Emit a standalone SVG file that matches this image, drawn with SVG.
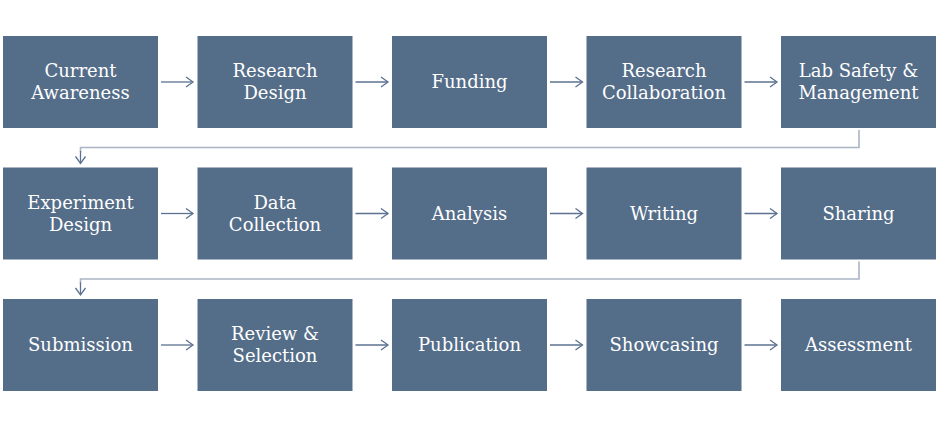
<svg xmlns="http://www.w3.org/2000/svg" width="939" height="426" viewBox="0 0 939 426">
<defs>
<style>
.box{fill:#546d89}
.t{font-family:"DejaVu Serif","Liberation Serif",serif;font-size:18px;fill:#fff;text-anchor:middle}
.a{stroke:#5b7290;stroke-width:1.3;fill:none}
.w{stroke:#a9b5c3;stroke-width:1.6;fill:none}
</style>
<marker id="ah" markerWidth="10" markerHeight="12" refX="8" refY="6" orient="auto" markerUnits="userSpaceOnUse">
<path d="M1,1 L8,6 L1,11" fill="none" stroke="#5b7290" stroke-width="1.3"/>
</marker>
</defs>
<rect width="939" height="426" fill="#fff"/>
<g id="connectors">
<line class="a" x1="161" y1="82" x2="193" y2="82" marker-end="url(#ah)"/>
<line class="a" x1="355.5" y1="82" x2="388" y2="82" marker-end="url(#ah)"/>
<line class="a" x1="550" y1="82" x2="582.5" y2="82" marker-end="url(#ah)"/>
<line class="a" x1="744.5" y1="82" x2="777" y2="82" marker-end="url(#ah)"/>
<polyline class="w" points="859,130 859,147.5 80.5,147.5 80.5,152"/>
<line class="a" x1="80.5" y1="151" x2="80.5" y2="163.5" marker-end="url(#ah)"/>
<line class="a" x1="161" y1="213.5" x2="193" y2="213.5" marker-end="url(#ah)"/>
<line class="a" x1="355.5" y1="213.5" x2="388" y2="213.5" marker-end="url(#ah)"/>
<line class="a" x1="550" y1="213.5" x2="582.5" y2="213.5" marker-end="url(#ah)"/>
<line class="a" x1="744.5" y1="213.5" x2="777" y2="213.5" marker-end="url(#ah)"/>
<polyline class="w" points="859,261.5 859,279 80.5,279 80.5,283.5"/>
<line class="a" x1="80.5" y1="282.5" x2="80.5" y2="295" marker-end="url(#ah)"/>
<line class="a" x1="161" y1="345" x2="193" y2="345" marker-end="url(#ah)"/>
<line class="a" x1="355.5" y1="345" x2="388" y2="345" marker-end="url(#ah)"/>
<line class="a" x1="550" y1="345" x2="582.5" y2="345" marker-end="url(#ah)"/>
<line class="a" x1="744.5" y1="345" x2="777" y2="345" marker-end="url(#ah)"/>
</g>
<g id="n1"><rect class="box" x="3" y="36" width="155" height="92"/><text class="t" x="80.5" y="77">Current</text><text class="t" x="80.5" y="99">Awareness</text></g>
<g id="n2"><rect class="box" x="197.5" y="36" width="155" height="92"/><text class="t" x="275" y="77">Research</text><text class="t" x="275" y="99">Design</text></g>
<g id="n3"><rect class="box" x="392" y="36" width="155" height="92"/><text class="t" x="469.5" y="88">Funding</text></g>
<g id="n4"><rect class="box" x="586.5" y="36" width="155" height="92"/><text class="t" x="664" y="77">Research</text><text class="t" x="664" y="99">Collaboration</text></g>
<g id="n5"><rect class="box" x="781" y="36" width="155" height="92"/><text class="t" x="858.5" y="77">Lab Safety &amp;</text><text class="t" x="858.5" y="99">Management</text></g>
<g id="n6"><rect class="box" x="3" y="167.5" width="155" height="92"/><text class="t" x="80.5" y="208.5">Experiment</text><text class="t" x="80.5" y="230.5">Design</text></g>
<g id="n7"><rect class="box" x="197.5" y="167.5" width="155" height="92"/><text class="t" x="275" y="208.5">Data</text><text class="t" x="275" y="230.5">Collection</text></g>
<g id="n8"><rect class="box" x="392" y="167.5" width="155" height="92"/><text class="t" x="469.5" y="219.5">Analysis</text></g>
<g id="n9"><rect class="box" x="586.5" y="167.5" width="155" height="92"/><text class="t" x="664" y="219.5">Writing</text></g>
<g id="n10"><rect class="box" x="781" y="167.5" width="155" height="92"/><text class="t" x="858.5" y="219.5">Sharing</text></g>
<g id="n11"><rect class="box" x="3" y="299" width="155" height="92"/><text class="t" x="80.5" y="351">Submission</text></g>
<g id="n12"><rect class="box" x="197.5" y="299" width="155" height="92"/><text class="t" x="275" y="340">Review &amp;</text><text class="t" x="275" y="362">Selection</text></g>
<g id="n13"><rect class="box" x="392" y="299" width="155" height="92"/><text class="t" x="469.5" y="351">Publication</text></g>
<g id="n14"><rect class="box" x="586.5" y="299" width="155" height="92"/><text class="t" x="664" y="351">Showcasing</text></g>
<g id="n15"><rect class="box" x="781" y="299" width="155" height="92"/><text class="t" x="858.5" y="351">Assessment</text></g>
</svg>
